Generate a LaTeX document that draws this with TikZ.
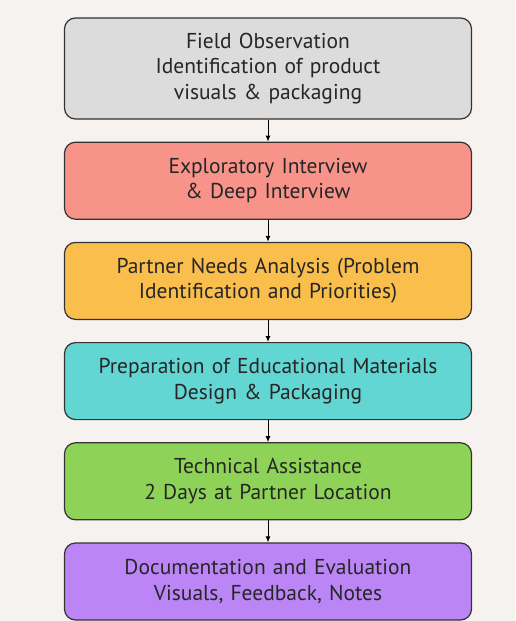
\documentclass[tikz,border=0pt]{standalone}
\usepackage{fontspec}
\setmainfont{PT Sans}
\usetikzlibrary{arrows.meta, positioning}
\usepackage{xcolor}

\definecolor{fieldgray}{HTML}{DCDCDC}
\definecolor{interviewred}{HTML}{F8938A}
\definecolor{needsorange}{HTML}{F9BE4B}
\definecolor{materialcyan}{HTML}{62D6D3}
\definecolor{assistgreen}{HTML}{8ED357}
\definecolor{evalpurple}{HTML}{BB85F5}
\definecolor{paper}{HTML}{F6F2F0}

\begin{document}
\begin{tikzpicture}[
x=1pt, y=1pt,
node distance=22pt,
box/.style={draw=black!80,
line width=1.2pt,
rectangle,
rounded corners=11pt,
minimum width=407pt,
minimum height=77pt,
text width=395pt,
align=center,
text=black!85,
font=\fontsize{21.5}{25.5}\selectfont},
arrow/.style={-{Latex[length=6pt, width=5pt]}, line width=1pt}
]

\fill[paper] (0,0) rectangle (515,-621);
\useasboundingbox (0,0) rectangle (515,-621);

\node[box, fill=fieldgray, minimum height=101pt] (step0) at (268,-68.5) {Field Observation\\ Identification of product\\ visuals \& packaging};
\node[box, fill=interviewred, below=of step0] (step1) {Exploratory Interview\\ \& Deep Interview};
\node[box, fill=needsorange, below=of step1] (step2) {Partner Needs Analysis (Problem\\ Identification and Priorities)};
\node[box, fill=materialcyan, below=of step2] (step3) {Preparation of Educational Materials\\ Design \& Packaging};
\node[box, fill=assistgreen, below=of step3] (step4) {Technical Assistance\\ 2 Days at Partner Location};
\node[box, fill=evalpurple, below=of step4] (step5) {Documentation and Evaluation\\ Visuals, Feedback, Notes};

\draw[arrow] (step0) -- (step1);
\draw[arrow] (step1) -- (step2);
\draw[arrow] (step2) -- (step3);
\draw[arrow] (step3) -- (step4);
\draw[arrow] (step4) -- (step5);

\end{tikzpicture}
\end{document}
